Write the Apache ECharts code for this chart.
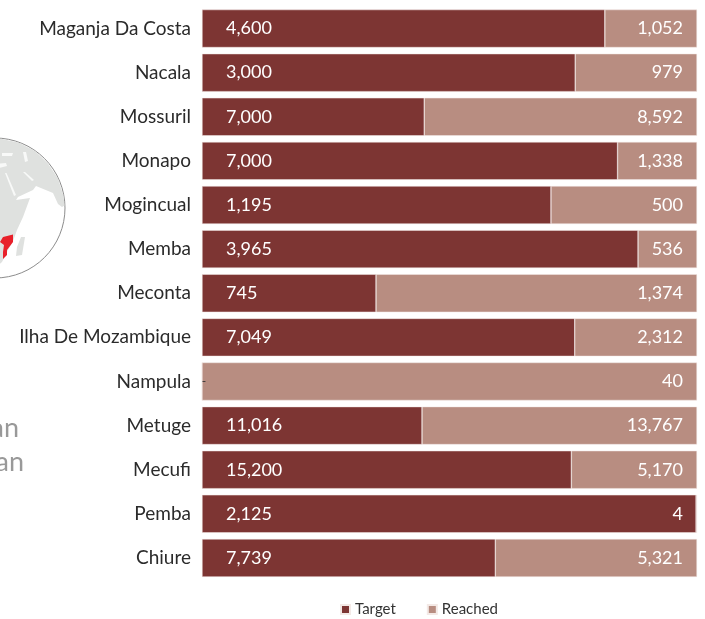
<!DOCTYPE html>
<html>
<head>
<meta charset="utf-8">
<style>
  html, body { margin: 0; padding: 0; background: #fff; }
  #chart { width: 705px; height: 619px; }
</style>
<script src="https://cdn.jsdelivr.net/npm/echarts@6/dist/echarts.min.js"></script>
</head>
<body>
<div id="chart"></div>
<script>
// listed top to bottom as in the picture
const districts = ["Maganja Da Costa", "Nacala", "Mossuril", "Monapo", "Mogincual", "Memba", "Meconta", "Ilha De Mozambique", "Nampula", "Metuge", "Mecufi", "Pemba", "Chiure"];
const target = [4600, 3000, 7000, 7000, 1195, 3965, 745, 7049, 0, 11016, 15200, 2125, 7739];
const reached = [1052, 979, 8592, 1338, 500, 536, 1374, 2312, 40, 13767, 5170, 4, 5321];

const FONT = "Lato";
const DARK = "#7d3533";
const LIGHT = "#b88d81";
const LAND = "#dfe1df";
const SEA = "#f8f9f8";

const share = (v, i) => (v / (target[i] + reached[i])) * 100;
const fmt = (v) => (v === 0 ? "-" : v.toLocaleString("en-US"));

// small locator globe, cut off by the left edge of the page
const poly = (points, fill) => ({ type: "polygon", shape: { points }, style: { fill } });
const globe = [
  { type: "circle", shape: { cx: -5, cy: 208, r: 70 }, style: { fill: "#fff", stroke: "#8c8c8c", lineWidth: 1 } },
  poly([[-5, 138.5], [1, 138.8], [19, 142.7], [35, 151], [48, 163.5], [58, 178.5], [63.5, 196], [64.5, 205.5], [62, 207], [58, 204], [53, 193], [36, 186], [33, 190], [18, 197], [16, 200], [30, 198], [23, 217], [17, 230], [13, 241], [8, 250], [2, 262], [-5, 268]], LAND),
  poly([[5, 173], [6.5, 173], [16, 195], [14, 196]], SEA),
  poly([[23, 172], [25, 172], [34, 180], [32, 181]], SEA),
  poly([[23, 152], [26, 152], [28, 161], [25, 162]], SEA),
  poly([[2, 153], [13, 153], [12, 156], [2, 156]], SEA),
  poly([[-5, 164], [6, 163], [7, 166], [-5, 169]], SEA),
  poly([[21, 237], [25, 237], [22, 255], [16, 256], [17, 247]], LAND),
  poly([[3, 237], [13, 234.5], [13, 242], [7, 250], [7, 255], [3, 259], [3, 252], [4, 245], [0, 242]], "#e8202a"),
  { type: "text", style: { text: "an", x: 19, y: 442, align: "right", verticalAlign: "bottom", fontFamily: FONT, fontSize: 27, fill: "#999" } },
  { type: "text", style: { text: "an", x: 24, y: 476, align: "right", verticalAlign: "bottom", fontFamily: FONT, fontSize: 27, fill: "#999" } },
];

const mc = echarts.init(document.getElementById("chart"));
mc.setOption({
  animation: false,
  textStyle: { fontFamily: FONT },
  grid: { left: 202, width: 495, top: 6.5, height: 573.5 },
  legend: {
    left: 335,
    top: 597,
    itemWidth: 9,
    itemHeight: 9,
    itemGap: 31,
    icon: "rect",
    textStyle: { fontFamily: FONT, fontSize: 15, color: "#333" },
    data: ["Target", "Reached"],
  },
  xAxis: { type: "value", min: 0, max: 100, show: false },
  yAxis: {
    type: "category",
    inverse: true,
    data: districts,
    axisLine: { show: false },
    axisTick: { show: false },
    axisLabel: { fontFamily: FONT, fontSize: 19, color: "#2b2b2b", margin: 11 },
  },
  series: [
    {
      name: "Target",
      type: "bar",
      stack: "total",
      barCategoryGap: "14%",
      itemStyle: { color: DARK, borderColor: "#f3e9e6", borderWidth: 0.5 },
      label: {
        show: true,
        position: "insideLeft",
        distance: 24,
        fontFamily: FONT,
        fontSize: 18,
        color: "#fff",
      },
      data: target.map((v, i) => ({
        value: share(v, i),
        label: v === 0
          ? { formatter: fmt(v), color: "#333", distance: 0, fontSize: 12 }
          : { formatter: fmt(v) },
      })),
    },
    {
      name: "Reached",
      type: "bar",
      stack: "total",
      itemStyle: { color: LIGHT, borderColor: "#f3e9e6", borderWidth: 0.5 },
      label: {
        show: true,
        position: "insideRight",
        distance: 14,
        fontFamily: FONT,
        fontSize: 18,
        color: "#fff",
      },
      data: reached.map((v, i) => ({
        value: share(v, i),
        label: { formatter: fmt(v) },
      })),
    },
  ],
  color: [DARK, LIGHT],
  graphic: globe,
});
</script>
</body>
</html>
